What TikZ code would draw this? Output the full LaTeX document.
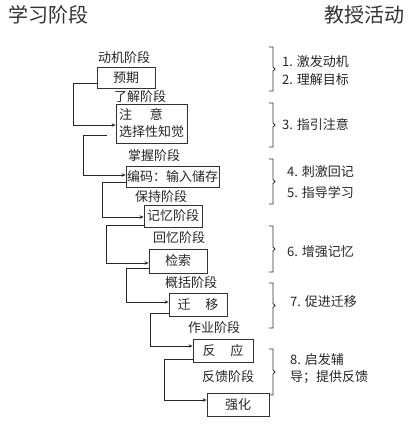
\documentclass[tikz,border=0pt]{standalone}
\usepackage{fontspec}
\setmainfont{Noto Sans CJK SC}
\usetikzlibrary{arrows.meta}
\begin{document}
\begin{tikzpicture}[x=1pt,y=-1pt,
  txt/.style={inner sep=0pt,font=\fontsize{13}{16}\selectfont,text=black!85},
  ttl/.style={inner sep=0pt,font=\fontsize{20}{22}\selectfont,text=black!80},
  stagebox/.style={draw=black!80,line width=0.8pt,inner sep=0pt,font=\fontsize{13}{16}\selectfont,text=black!85},
  arr/.style={draw=black!85,line width=0.8pt,-{Stealth[length=4pt,width=3.5pt]}},
  brk/.style={draw=black!80,line width=0.8pt}]
\useasboundingbox (0,0) rectangle (418,433);
% titles
\node[ttl,anchor=west] (t1) at (8,15) {学习阶段};
\node[ttl,anchor=east] (t2) at (405,15) {教授活动};
% boxes
\node[stagebox,minimum width=58pt,minimum height=21pt] (b1) at (126,77.5) {预期};
\node[stagebox,minimum width=71pt,minimum height=39pt,align=left] (b2) at (151.5,123.5) {注\hspace{18pt}意\\[1pt]选择性知觉};
\node[stagebox,minimum width=93pt,minimum height=21pt] (b3) at (172.5,176.5) {编码：输入储存};
\node[stagebox,minimum width=58pt,minimum height=22pt] (b4) at (173,216) {记忆阶段};
\node[stagebox,minimum width=58pt,minimum height=24pt] (b5) at (178,261) {检索};
\node[stagebox,minimum width=58pt,minimum height=23pt] (b6) at (198,304.5) {迁\hspace{15pt}移};
\node[stagebox,minimum width=60pt,minimum height=23pt] (b7) at (223,350.5) {反\hspace{15pt}应};
\node[stagebox,minimum width=62pt,minimum height=23pt] (b8) at (238,404.5) {强化};
% stage labels
\node[txt] (l1) at (124,58) {动机阶段};
\node[txt] (l2) at (140,97) {了解阶段};
\node[txt] (l3) at (154,156) {掌握阶段};
\node[txt] (l4) at (161,197) {保持阶段};
\node[txt] (l5) at (179,238) {回忆阶段};
\node[txt] (l6) at (191,283) {概括阶段};
\node[txt] (l7) at (214,328) {作业阶段};
\node[txt] (l8) at (228,377) {反馈阶段};
% connectors
\draw[arr] (b1.west |- 0,83) -- (73,83) |- (b2.west |- 0,125);
\draw[arr] ([xshift=-9pt]b2.west |- 0,135) -- (83,135) |- (b3.west |- 0,175);
\draw[arr] (b3.west |- 0,182) -- (102,182) |- (b4.west |- 0,217);
\draw[arr] (b4.west |- 0,225) -- (106,225) |- (b5.west |- 0,263);
\draw[arr] (b5.west |- 0,268) -- (126,268) |- (b6.west |- 0,302);
\draw[arr] (b6.west |- 0,313) -- (150,313) |- (b7.west |- 0,346);
\draw[arr] (b7.west |- 0,359) -- (164,359) |- (b8.west |- 0,400);
% brackets
\foreach \a/\b in {47/91,103/147,159/204,226/272,283/328,349/395}{
  \draw[brk] (269,\a) -- (273,\a) -- ({273},{(\a+\b)/2-2}) -- (275,{(\a+\b)/2}) -- (273,{(\a+\b)/2+2}) -- (273,\b) -- (269,\b);
}
% teaching activities
\node[txt,anchor=west] (a1) at (282,62) {1. 激发动机};
\node[txt,anchor=west] (a2) at (282,80) {2. 理解目标};
\node[txt,anchor=west] (a3) at (282,125) {3. 指引注意};
\node[txt,anchor=west] (a4) at (287,172) {4. 刺激回记};
\node[txt,anchor=west] (a5) at (287,192) {5. 指导学习};
\node[txt,anchor=west] (a6) at (287,252) {6. 增强记忆};
\node[txt,anchor=west] (a7) at (290,302) {7. 促进迁移};
\node[txt,anchor=west] (a8) at (290,360) {8. 启发辅};
\node[txt,anchor=west] (a9) at (290,377) {导；提供反馈};
\end{tikzpicture}
\end{document}
